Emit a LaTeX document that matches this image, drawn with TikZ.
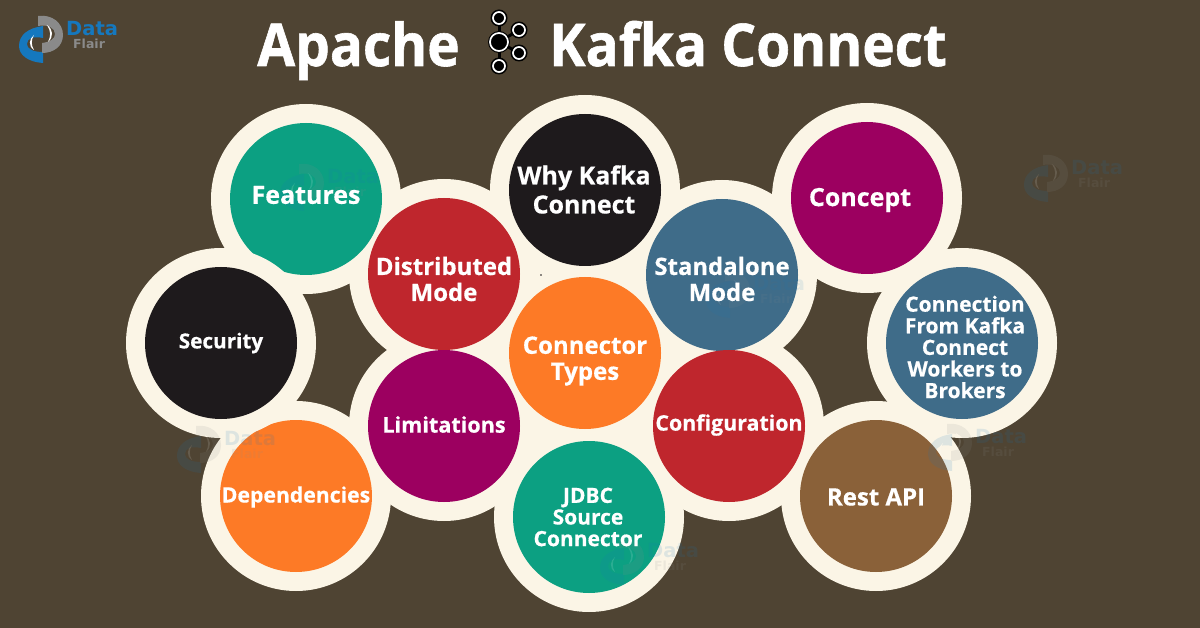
\documentclass[tikz,border=0pt]{standalone}
\usepackage{fontspec}
\setmainfont[BoldFeatures={FakeBold=0.5}]{Open Sans}
\newfontfamily\titlefont[FakeStretch=0.93,BoldFeatures={FakeBold=1}]{Open Sans}
\newfontfamily\logofont{DejaVu Sans}
\definecolor{bg}{HTML}{4F4433}
\definecolor{cream}{HTML}{FBF5E6}
\definecolor{teal}{HTML}{0CA082}
\definecolor{ink}{HTML}{1E1A1C}
\definecolor{crimson}{HTML}{BF262D}
\definecolor{plum}{HTML}{9C0060}
\definecolor{steel}{HTML}{3F6C89}
\definecolor{tang}{HTML}{FD7A26}
\definecolor{bronze}{HTML}{8A6139}
\definecolor{logoblue}{HTML}{1578BE}
\definecolor{logogrey}{HTML}{8A8A8A}
\tikzset{
  x=1pt,y=1pt,
  ring/.style={circle,fill=cream,minimum size=190pt,inner sep=0pt},
  disc/.style={circle,fill=#1,minimum size=152pt,inner sep=0pt},
  lab/.style={text=white,align=center,inner sep=0pt},
  kout/.style={circle,fill=black,draw=white,line width=1.7pt,minimum size=#1,inner sep=0pt},
  kbar/.style={draw=black,line width=3pt},
}
% watermark / brand mark: dx, dy, opacity
\newcommand\brandmark[3]{%
  \begin{scope}[shift={(#1,#2)},opacity=#3,transparency group]
    \fill[logoblue] (43,-26) .. controls (28,-28) and (19,-35) .. (19,-46)
      .. controls (19,-55) and (28,-62) .. (43,-63) -- (43,-52)
      .. controls (33,-52) and (27,-49) .. (27,-44)
      .. controls (27,-38) and (34,-36) .. (43,-38) -- cycle;
    \fill[white] (34,-35) .. controls (29,-39) and (28,-46) .. (34,-50)
      .. controls (31,-45) and (31,-40) .. (34,-35) -- cycle;
    \fill[logogrey] (38,-16) .. controls (52,-14) and (63,-23) .. (63,-35)
      .. controls (63,-46) and (54,-53) .. (42,-53) -- (42,-43)
      .. controls (50,-42) and (55,-39) .. (55,-34)
      .. controls (55,-28) and (48,-24) .. (38,-26) -- cycle;
    \fill[white] (47,-25) .. controls (53,-29) and (54,-37) .. (48,-42)
      .. controls (51,-36) and (51,-31) .. (47,-25) -- cycle;
    \node[anchor=west,inner sep=0pt,text=logoblue] at (66,-28.5)
      {\logofont\bfseries\fontsize{19.5}{20}\selectfont Data};
    \node[anchor=west,inner sep=0pt,text=logogrey] at (73,-43.5)
      {\logofont\bfseries\fontsize{12.5}{13}\selectfont Flair};
  \end{scope}}
\newcommand\lbl[5]{\node[lab,font=\bfseries\fontsize{#3}{#4}\selectfont] (#1) at (#2) {#5};}
\begin{document}
\begin{tikzpicture}
\useasboundingbox (0,0) rectangle (1200,-628);
\fill[bg] (0,0) rectangle (1200,-628);

% rings
\node[ring] (r1) at (306,-199) {};
\node[ring] (r3) at (296,-496) {};
\node[ring] (r4) at (444,-426) {};
\node[ring] (r5) at (444,-274) {};
\node[ring] (r6) at (585,-190) {};
\node[ring] (r7) at (867,-198) {};
\node[ring] (r8) at (722,-275) {};
\node[ring] (r9) at (585,-353) {};
\node[ring] (r10) at (729,-426) {};
\node[ring] (r11) at (589,-517) {};
\node[ring] (r12) at (876,-496) {};
\node[ring] (r13) at (962,-343) {};
% close the pinhole between three rings
\fill[cream] (538,-436) circle (4);

% discs
\node[disc=teal] (d1) at (306,-199) {};
\node[disc=tang] (d3) at (296,-496) {};
\node[disc=plum] (d4) at (444,-426) {};
\node[disc=crimson] (d5) at (444,-274) {};
\node[disc=ink] (d6) at (585,-190) {};
\node[disc=plum] (d7) at (867,-198) {};
\node[disc=steel] (d8) at (722,-275) {};
\node[disc=tang] (d9) at (585,-353) {};
\node[disc=crimson] (d10) at (729,-426) {};
\node[disc=teal] (d11) at (589,-517) {};
\node[disc=bronze] (d12) at (876,-496) {};
\node[disc=steel] (d13) at (962,-343) {};

% Security sits above the Features disc
\node[ring] (r2) at (221,-343) {};
\node[disc=ink] (d2) at (221,-343) {};

\fill[ink] (541,-275) circle (0.8);

% faint watermarks
\brandmark{261}{-148}{0.13}
\brandmark{1005}{-139}{0.13}
\brandmark{158}{-410}{0.13}
\brandmark{909}{-408}{0.13}
\brandmark{581}{-522}{0.13}
\brandmark{687}{-255}{0.10}

% labels
\lbl{t1}{306,-195}{25}{29}{Features}
\lbl{t2}{221,-343}{20.7}{24}{Security}
\lbl{t3}{296,-497}{21.2}{25}{Dependencies}
\lbl{t4}{444,-424.5}{21.6}{26}{Limitations}
\lbl{t5}{444,-279}{24}{26}{Distributed\\Mode}
\lbl{t6}{584,-189.5}{25}{29}{Why Kafka\\Connect}
\lbl{t7}{860,-200}{25}{29}{Concept}
\lbl{t8}{722,-279}{23.9}{26}{Standalone\\Mode}
\lbl{t9}{585,-361}{24}{26}{Connector\\Types}
\lbl{t10}{729,-425}{21.4}{25}{Configuration}
\lbl{t11}{588,-517}{21}{21.6}{JDBC\\Source\\Connector}
\lbl{t12}{876,-497}{24}{28}{Rest API}
\lbl{t13}{965,-347}{21}{21.6}{Connection\\From Kafka\\Connect\\Workers to\\Brokers}

% title
\node[lab,anchor=base,font=\titlefont\bfseries\fontsize{59}{59}\selectfont] (tA) at (358.5,-66) {Apache};
\node[lab,anchor=base,font=\titlefont\bfseries\fontsize{59}{59}\selectfont] (tK) at (748,-66) {Kafka Connect};

% Kafka mark
\foreach \p/\r in {499/-18,499/-66,519/-30,519/-53}{
  \fill[black] (\p,\r) circle (8.5);
}
\fill[black] (499,-42) circle (11);
\node[kout=12pt] (k1) at (499,-18) {};
\node[kout=18pt] (k0) at (499,-42) {};
\node[kout=12pt] (k2) at (499,-66) {};
\node[kout=12pt] (k3) at (519,-30) {};
\node[kout=12pt] (k4) at (519,-53) {};
\draw[kbar] (k1) -- (k0);
\draw[kbar] (k0) -- (k2);
\draw[kbar] (k0) -- (k3);
\draw[kbar] (k0) -- (k4);

% logo
\brandmark{0}{0}{1}
\end{tikzpicture}
\end{document}
